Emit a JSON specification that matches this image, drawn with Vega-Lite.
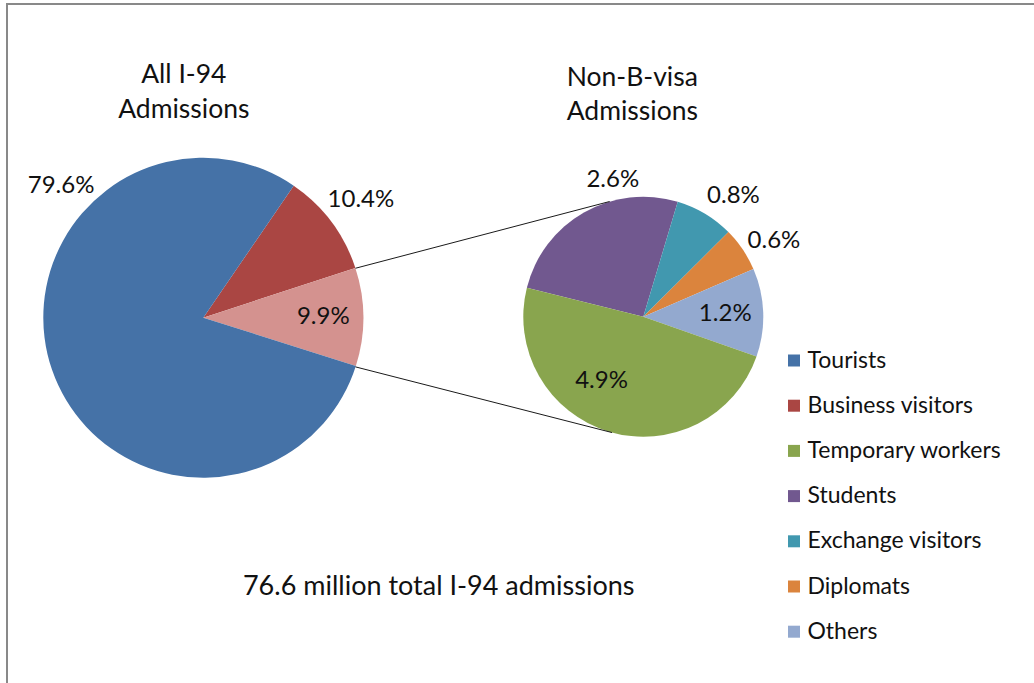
{
  "$schema": "https://vega.github.io/schema/vega-lite/v6.json",
  "autosize": {"type": "none"},
  "padding": {"left": 7, "top": 4, "right": 0, "bottom": 0},
  "width": 1027,
  "height": 679,
  "background": "white",
  "config": {
    "view": {"stroke": null},
    "font": "Lato",
    "text": {"font": "Lato", "color": "#111111"}
  },
  "params": [
    {"name": "cxL", "value": 196.3},
    {"name": "cyL", "value": 313.7},
    {"name": "rL", "value": 160},
    {"name": "cxR", "value": 636.3},
    {"name": "cyR", "value": 312.7},
    {"name": "rR", "value": 120}
  ],
  "resolve": {"scale": {"theta": "independent"}},
  "layer": [
    {
      "data": {"values": [{}]},
      "mark": {"type": "rule", "color": "#898989", "strokeWidth": 2},
      "encoding": {
        "x": {"value": 0}, "y": {"value": -1}, "y2": {"value": {"expr": "height"}}
      }
    },
    {
      "data": {"values": [{}]},
      "mark": {"type": "rule", "color": "#898989", "strokeWidth": 2},
      "encoding": {
        "x": {"value": -1}, "x2": {"value": {"expr": "width"}}, "y": {"value": 0}
      }
    },
    {
      "data": {"values": [
        {"cat": "Business visitors", "share": 0.104},
        {"cat": "Non-B visas", "share": 0.099},
        {"cat": "Tourists", "share": 0.796}
      ]},
      "transform": [{"window": [{"op": "row_number", "as": "idx"}]}],
      "encoding": {
        "theta": {"field": "share", "type": "quantitative", "stack": true, "scale": {"range": [0.6004, 6.8836]}},
        "order": {"field": "idx", "type": "quantitative"}
      },
      "layer": [
        {
          "mark": {"type": "arc", "x": {"expr": "cxL"}, "y": {"expr": "cyL"}, "radius": {"expr": "rL"}},
          "encoding": {
            "color": {
              "field": "cat", "type": "nominal",
              "scale": {
                "domain": ["Tourists", "Business visitors", "Temporary workers", "Students", "Exchange visitors", "Diplomats", "Others", "Non-B visas"],
                "range": ["#4572A7", "#AA4643", "#89A54E", "#71588F", "#4198AF", "#DB843D", "#93A9CF", "#D4928F"]
              },
              "legend": {
                "orient": "none", "legendX": 775.5, "legendY": 345, "title": null,
                "values": ["Tourists", "Business visitors", "Temporary workers", "Students", "Exchange visitors", "Diplomats", "Others"],
                "symbolType": "square", "symbolSize": 144, "symbolStrokeWidth": 0, "symbolOpacity": 1,
                "labelFont": "Lato", "labelFontSize": 23, "labelColor": "#111111", "labelLimit": 300,
                "rowPadding": 21.2, "labelOffset": 2, "padding": 0
              }
            }
          }
        },
        {
          "mark": {
            "type": "text", "x": {"expr": "cxL"}, "y": {"expr": "cyL"},
            "fontSize": 24, "align": "center", "baseline": "middle",
            "radius": {"expr": "datum.cat == 'Non-B visas' ? 120 : (datum.cat == 'Tourists' ? 194 : 197)"},
            "thetaOffset": {"expr": "datum.cat == 'Tourists' ? 1.08 : 0"}
          },
          "encoding": {
            "text": {"field": "share", "type": "quantitative", "format": ".1%"}
          }
        }
      ]
    },
    {
      "data": {"values": [
        {"cat": "Students", "share": 0.026},
        {"cat": "Exchange visitors", "share": 0.008},
        {"cat": "Diplomats", "share": 0.006},
        {"cat": "Others", "share": 0.012},
        {"cat": "Temporary workers", "share": 0.049}
      ]},
      "transform": [{"window": [{"op": "row_number", "as": "idx"}]}],
      "encoding": {
        "theta": {"field": "share", "type": "quantitative", "stack": true, "scale": {"range": [-1.3265, 4.9567]}},
        "order": {"field": "idx", "type": "quantitative"}
      },
      "layer": [
        {
          "mark": {"type": "arc", "x": {"expr": "cxR"}, "y": {"expr": "cyR"}, "radius": {"expr": "rR"}},
          "encoding": {
            "color": {"field": "cat", "type": "nominal"}
          }
        },
        {
          "mark": {
            "type": "text", "x": {"expr": "cxR"}, "y": {"expr": "cyR"},
            "fontSize": 24, "align": "center", "baseline": "middle",
            "radius": {"expr": "datum.cat == 'Students' ? 140 : (datum.cat == 'Exchange visitors' || datum.cat == 'Diplomats') ? 151 : (datum.cat == 'Others' ? 82 : 77)"},
            "thetaOffset": {"expr": "datum.cat == 'Students' ? 0.298 : datum.cat == 'Exchange visitors' ? 0.1 : datum.cat == 'Diplomats' ? 0.07 : datum.cat == 'Temporary workers' ? 0.282 : 0"}
          },
          "encoding": {
            "text": {"field": "share", "type": "quantitative", "format": ".1%"}
          }
        }
      ]
    },
    {
      "data": {"values": [{}]},
      "mark": {"type": "rule", "color": "#1a1a1a", "strokeWidth": 1},
      "encoding": {
        "x": {"value": {"expr": "cxL + rL*sin(1.2566)"}},
        "y": {"value": {"expr": "cyL - rL*cos(1.2566)"}},
        "x2": {"value": {"expr": "cxR + rR*sin(5.999)"}},
        "y2": {"value": {"expr": "cyR - rR*cos(5.999)"}}
      }
    },
    {
      "data": {"values": [{}]},
      "mark": {"type": "rule", "color": "#1a1a1a", "strokeWidth": 1},
      "encoding": {
        "x": {"value": {"expr": "cxL + rL*sin(1.8833)"}},
        "y": {"value": {"expr": "cyL - rL*cos(1.8833)"}},
        "x2": {"value": {"expr": "cxR + rR*sin(3.4052)"}},
        "y2": {"value": {"expr": "cyR - rR*cos(3.4052)"}}
      }
    },
    {
      "data": {"values": [{}]},
      "mark": {"type": "text", "text": ["All I-94", "Admissions"], "x": 176.8, "y": 78.7, "lineHeight": 35.6, "fontSize": 26.5, "align": "center", "baseline": "alphabetic"},
      "encoding": {}
    },
    {
      "data": {"values": [{}]},
      "mark": {"type": "text", "text": ["Non-B-visa", "Admissions"], "x": 625.3, "y": 81.7, "lineHeight": 34.3, "fontSize": 26.5, "align": "center", "baseline": "alphabetic"},
      "encoding": {}
    },
    {
      "data": {"values": [{}]},
      "mark": {"type": "text", "text": "76.6 million total I-94 admissions", "x": 431.7, "y": 591, "fontSize": 27, "align": "center", "baseline": "alphabetic"},
      "encoding": {}
    }
  ]
}
